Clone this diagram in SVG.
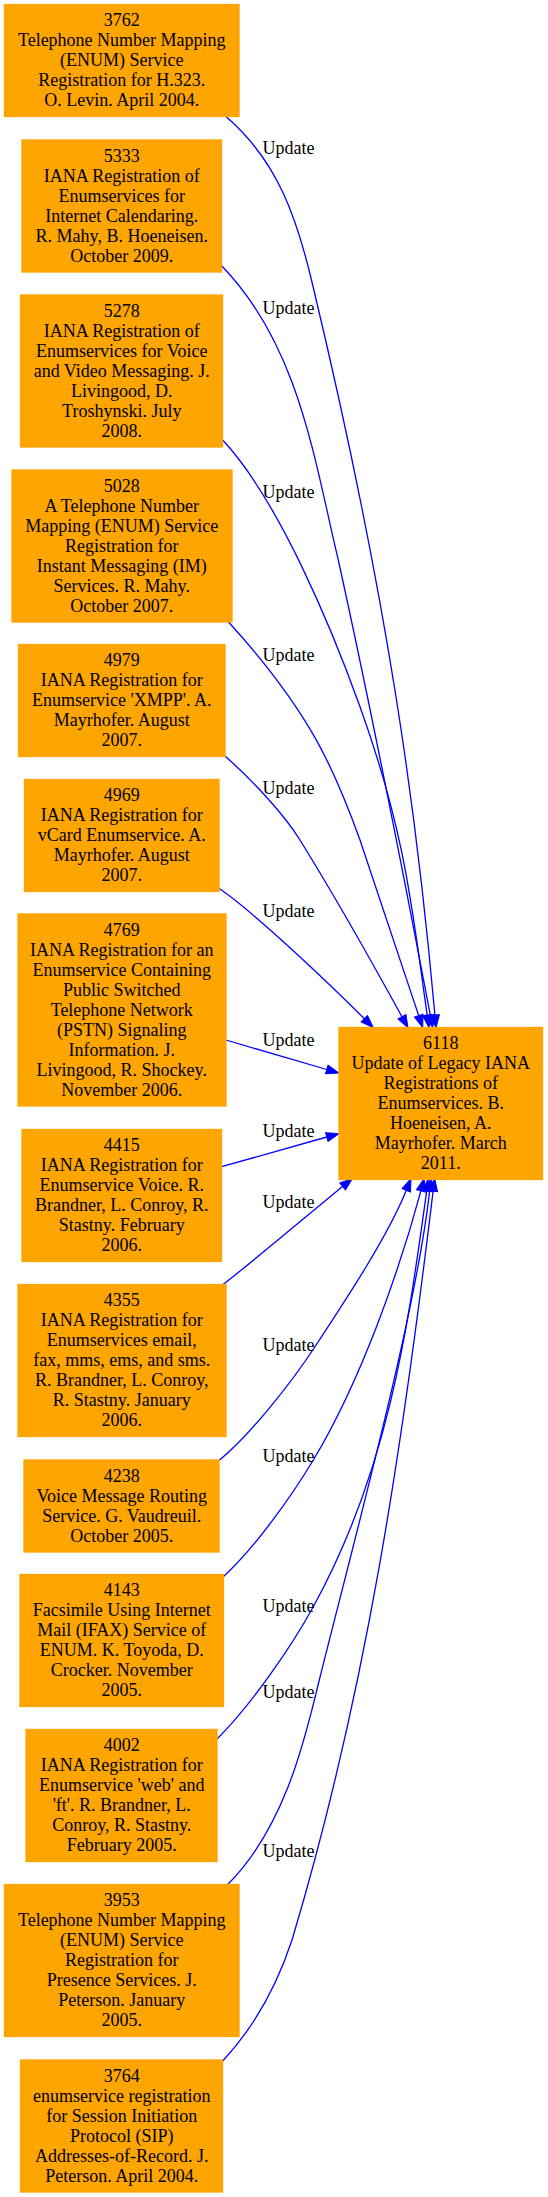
<svg xmlns="http://www.w3.org/2000/svg" width="548" height="2197" viewBox="0 0 548 2197">
<style>
.n rect{fill:#ffa500;stroke:#ffa500;stroke-width:1.3}
.n text{font-family:"Liberation Serif","Times New Roman",serif;font-size:18px;fill:#000;text-anchor:middle}
.e path{fill:none;stroke:#0000ff;stroke-width:1.3}
.lbl{font-family:"Liberation Serif","Times New Roman",serif;font-size:18px;fill:#000;text-anchor:middle}
</style>
<defs>
<marker id="ah" markerWidth="14" markerHeight="10" refX="0" refY="4.5" orient="auto" markerUnits="userSpaceOnUse" overflow="visible">
<path d="M0,0 L12.7,4.5 L0,9 z" fill="#0000ff" stroke="#0000ff" stroke-width="1"/>
</marker>
</defs>
<rect width="548" height="2197" fill="#fff"/>
<g id="edges" class="e">
<path marker-end="url(#ah)" d="M226.2,116.7 C278.4,161.7 297.1,220 311.5,280 C388.3,600 417.1,815 434.9,1015.05"/>
<path marker-end="url(#ah)" d="M221.6,265.7 C299.2,345.7 314.3,460 338.3,560 C371.3,710 401.8,865.2 430.3,1015.2"/>
<path marker-end="url(#ah)" d="M222.7,440 C278.5,500 331.2,626.7 360,706.7 C406.8,836.7 412.7,915.1 427.2,1015.1"/>
<path marker-end="url(#ah)" d="M228.3,621.7 C310.2,711.7 334.8,770 360,840 L418.7,1015.65"/>
<path marker-end="url(#ah)" d="M225,756 C253.3,781 284.5,815 300,840 C331,890 374.5,966.7 401.95,1016.7"/>
<path marker-end="url(#ah)" d="M218.8,888.3 C254.8,912.3 334.3,988.7 364.3,1018.7"/>
<path marker-end="url(#ah)" d="M225.8,1040 L326.8,1069.5"/>
<path marker-end="url(#ah)" d="M221.6,1166.7 L326.8,1137"/>
<path marker-end="url(#ah)" d="M222.7,1284.7 C246.7,1266.7 319.3,1205.4 342.6,1186.5"/>
<path marker-end="url(#ah)" d="M219.2,1460.3 C250,1435.3 291,1383 314.1,1348 C347.1,1298 388.3,1235.3 406.3,1190.3"/>
<path marker-end="url(#ah)" d="M223.3,1576.7 C256,1546.7 292.3,1495 313.3,1460 C361.3,1380 399.3,1270.8 420.9,1190.8"/>
<path marker-end="url(#ah)" d="M217.1,1739 C252.1,1704 291.3,1646.7 313.3,1606.7 C390.3,1466.7 408.5,1321.1 426.7,1191.1"/>
<path marker-end="url(#ah)" d="M227.5,1884.7 C287.5,1824.7 306.8,1730 319.3,1680 C356.8,1530 416.4,1311.1 429.6,1191.1"/>
<path marker-end="url(#ah)" d="M222.7,2061 C259.9,2021 280.5,1975 292,1940 C367,1690 403.1,1441.1 433.1,1191.1"/>
<text class="lbl" x="288.5" y="154">Update</text>
<text class="lbl" x="288.5" y="313.5">Update</text>
<text class="lbl" x="288.5" y="497.5">Update</text>
<text class="lbl" x="288.5" y="661">Update</text>
<text class="lbl" x="288.5" y="794.3">Update</text>
<text class="lbl" x="288.5" y="916.7">Update</text>
<text class="lbl" x="288.5" y="1045.7">Update</text>
<text class="lbl" x="288.5" y="1136.7">Update</text>
<text class="lbl" x="288.5" y="1208.4">Update</text>
<text class="lbl" x="288.5" y="1351">Update</text>
<text class="lbl" x="288.5" y="1462.3">Update</text>
<text class="lbl" x="288.5" y="1612.3">Update</text>
<text class="lbl" x="288.5" y="1697.7">Update</text>
<text class="lbl" x="288.5" y="1857.3">Update</text>
</g>
<g id="n3762" class="n"><rect x="4.5" y="4.5" width="234.5" height="112"/>
<text x="121.75" y="26"><tspan x="121.75">3762</tspan><tspan x="121.75" dy="20">Telephone Number Mapping</tspan><tspan x="121.75" dy="20">(ENUM) Service</tspan><tspan x="121.75" dy="20">Registration for H.323.</tspan><tspan x="121.75" dy="20">O. Levin. April 2004.</tspan></text></g>
<g id="n5333" class="n"><rect x="22" y="140" width="199.5" height="132"/>
<text x="121.75" y="161.5"><tspan x="121.75">5333</tspan><tspan x="121.75" dy="20">IANA Registration of</tspan><tspan x="121.75" dy="20">Enumservices for</tspan><tspan x="121.75" dy="20">Internet Calendaring.</tspan><tspan x="121.75" dy="20">R. Mahy, B. Hoeneisen.</tspan><tspan x="121.75" dy="20">October 2009.</tspan></text></g>
<g id="n5278" class="n"><rect x="20.5" y="295" width="202" height="152"/>
<text x="121.75" y="316.5"><tspan x="121.75">5278</tspan><tspan x="121.75" dy="20">IANA Registration of</tspan><tspan x="121.75" dy="20">Enumservices for Voice</tspan><tspan x="121.75" dy="20">and Video Messaging. J.</tspan><tspan x="121.75" dy="20">Livingood, D.</tspan><tspan x="121.75" dy="20">Troshynski. July</tspan><tspan x="121.75" dy="20">2008.</tspan></text></g>
<g id="n5028" class="n"><rect x="12" y="470" width="220" height="152"/>
<text x="121.75" y="491.5"><tspan x="121.75">5028</tspan><tspan x="121.75" dy="20">A Telephone Number</tspan><tspan x="121.75" dy="20">Mapping (ENUM) Service</tspan><tspan x="121.75" dy="20">Registration for</tspan><tspan x="121.75" dy="20">Instant Messaging (IM)</tspan><tspan x="121.75" dy="20">Services. R. Mahy.</tspan><tspan x="121.75" dy="20">October 2007.</tspan></text></g>
<g id="n4979" class="n"><rect x="18.5" y="644.5" width="206.5" height="112"/>
<text x="121.75" y="666"><tspan x="121.75">4979</tspan><tspan x="121.75" dy="20">IANA Registration for</tspan><tspan x="121.75" dy="20">Enumservice 'XMPP'. A.</tspan><tspan x="121.75" dy="20">Mayrhofer. August</tspan><tspan x="121.75" dy="20">2007.</tspan></text></g>
<g id="n4969" class="n"><rect x="24.5" y="779.5" width="194.5" height="112"/>
<text x="121.75" y="801"><tspan x="121.75">4969</tspan><tspan x="121.75" dy="20">IANA Registration for</tspan><tspan x="121.75" dy="20">vCard Enumservice. A.</tspan><tspan x="121.75" dy="20">Mayrhofer. August</tspan><tspan x="121.75" dy="20">2007.</tspan></text></g>
<g id="n4769" class="n"><rect x="18" y="914" width="208" height="192"/>
<text x="121.75" y="935.5"><tspan x="121.75">4769</tspan><tspan x="121.75" dy="20">IANA Registration for an</tspan><tspan x="121.75" dy="20">Enumservice Containing</tspan><tspan x="121.75" dy="20">Public Switched</tspan><tspan x="121.75" dy="20">Telephone Network</tspan><tspan x="121.75" dy="20">(PSTN) Signaling</tspan><tspan x="121.75" dy="20">Information. J.</tspan><tspan x="121.75" dy="20">Livingood, R. Shockey.</tspan><tspan x="121.75" dy="20">November 2006.</tspan></text></g>
<g id="n6118" class="n"><rect x="339" y="1027.5" width="203.5" height="152"/>
<text x="440.75" y="1049"><tspan x="440.75">6118</tspan><tspan x="440.75" dy="20">Update of Legacy IANA</tspan><tspan x="440.75" dy="20">Registrations of</tspan><tspan x="440.75" dy="20">Enumservices. B.</tspan><tspan x="440.75" dy="20">Hoeneisen, A.</tspan><tspan x="440.75" dy="20">Mayrhofer. March</tspan><tspan x="440.75" dy="20">2011.</tspan></text></g>
<g id="n4415" class="n"><rect x="22" y="1129.5" width="199.5" height="132"/>
<text x="121.75" y="1151"><tspan x="121.75">4415</tspan><tspan x="121.75" dy="20">IANA Registration for</tspan><tspan x="121.75" dy="20">Enumservice Voice. R.</tspan><tspan x="121.75" dy="20">Brandner, L. Conroy, R.</tspan><tspan x="121.75" dy="20">Stastny. February</tspan><tspan x="121.75" dy="20">2006.</tspan></text></g>
<g id="n4355" class="n"><rect x="18" y="1284.5" width="208" height="152"/>
<text x="121.75" y="1306"><tspan x="121.75">4355</tspan><tspan x="121.75" dy="20">IANA Registration for</tspan><tspan x="121.75" dy="20">Enumservices email,</tspan><tspan x="121.75" dy="20">fax, mms, ems, and sms.</tspan><tspan x="121.75" dy="20">R. Brandner, L. Conroy,</tspan><tspan x="121.75" dy="20">R. Stastny. January</tspan><tspan x="121.75" dy="20">2006.</tspan></text></g>
<g id="n4238" class="n"><rect x="24" y="1460" width="195" height="92"/>
<text x="121.75" y="1481.5"><tspan x="121.75">4238</tspan><tspan x="121.75" dy="20">Voice Message Routing</tspan><tspan x="121.75" dy="20">Service. G. Vaudreuil.</tspan><tspan x="121.75" dy="20">October 2005.</tspan></text></g>
<g id="n4143" class="n"><rect x="20" y="1574.5" width="203.5" height="132"/>
<text x="121.75" y="1596"><tspan x="121.75">4143</tspan><tspan x="121.75" dy="20">Facsimile Using Internet</tspan><tspan x="121.75" dy="20">Mail (IFAX) Service of</tspan><tspan x="121.75" dy="20">ENUM. K. Toyoda, D.</tspan><tspan x="121.75" dy="20">Crocker. November</tspan><tspan x="121.75" dy="20">2005.</tspan></text></g>
<g id="n4002" class="n"><rect x="26" y="1729.5" width="191" height="132"/>
<text x="121.75" y="1751"><tspan x="121.75">4002</tspan><tspan x="121.75" dy="20">IANA Registration for</tspan><tspan x="121.75" dy="20">Enumservice 'web' and</tspan><tspan x="121.75" dy="20">'ft'. R. Brandner, L.</tspan><tspan x="121.75" dy="20">Conroy, R. Stastny.</tspan><tspan x="121.75" dy="20">February 2005.</tspan></text></g>
<g id="n3953" class="n"><rect x="4.5" y="1884.5" width="234.5" height="152"/>
<text x="121.75" y="1906"><tspan x="121.75">3953</tspan><tspan x="121.75" dy="20">Telephone Number Mapping</tspan><tspan x="121.75" dy="20">(ENUM) Service</tspan><tspan x="121.75" dy="20">Registration for</tspan><tspan x="121.75" dy="20">Presence Services. J.</tspan><tspan x="121.75" dy="20">Peterson. January</tspan><tspan x="121.75" dy="20">2005.</tspan></text></g>
<g id="n3764" class="n"><rect x="20.5" y="2060" width="202" height="132"/>
<text x="121.75" y="2081.5"><tspan x="121.75">3764</tspan><tspan x="121.75" dy="20">enumservice registration</tspan><tspan x="121.75" dy="20">for Session Initiation</tspan><tspan x="121.75" dy="20">Protocol (SIP)</tspan><tspan x="121.75" dy="20">Addresses-of-Record. J.</tspan><tspan x="121.75" dy="20">Peterson. April 2004.</tspan></text></g>
</svg>
